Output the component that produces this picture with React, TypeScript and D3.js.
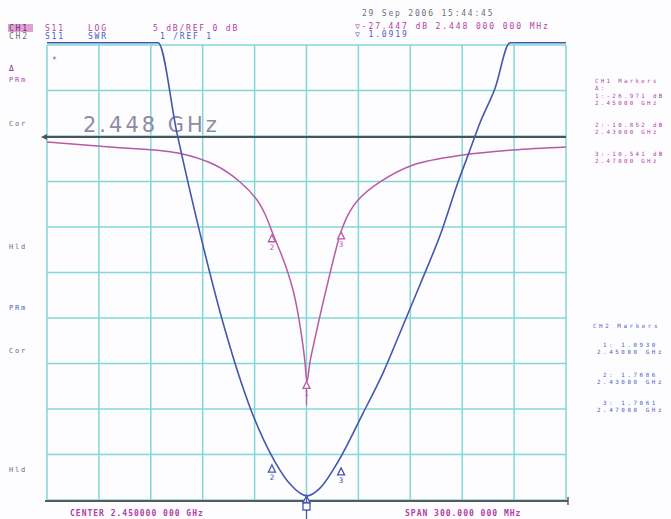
import React from "react";
import * as d3 from "d3";

// ---- data ----
const swrFreq = [2.300, 2.3642, 2.3751, 2.3884, 2.4029, 2.4173, 2.4318, 2.4405, 2.4503, 2.4578, 2.4682, 2.4827, 2.4942, 2.5040, 2.5156, 2.5283, 2.5376, 2.5434, 2.5503, 2.5590, 2.5676, 2.600];
const swrVals = [11.05, 11.05, 9.07, 6.87, 4.74, 3.04, 1.84, 1.35, 1.09, 1.26, 1.84, 2.91, 3.79, 4.67, 5.73, 6.93, 7.99, 8.58, 9.29, 10.05, 11.05, 11.05];

const dbFreq = [2.300, 2.3364, 2.3757, 2.3971, 2.4116, 2.4214, 2.4260, 2.4306, 2.4358, 2.4393, 2.4422, 2.4445, 2.4462, 2.4480, 2.4491, 2.4503, 2.4520, 2.4543, 2.4566, 2.4595, 2.4624, 2.4659, 2.4699, 2.4746, 2.4798, 2.4925, 2.5116, 2.5405, 2.5694, 2.600];
const dbVals = [-0.66, -1.21, -1.87, -3.19, -5.05, -7.03, -8.57, -10.77, -13.19, -15.05, -16.92, -18.90, -20.77, -23.08, -24.84, -26.97, -24.84, -22.75, -20.77, -18.35, -16.04, -13.30, -10.55, -8.46, -7.03, -5.05, -3.19, -2.09, -1.54, -1.21];

const markerFreq = [2.45, 2.43, 2.47];
const markerDb = [-26.971, -10.852, -10.541];
const markerSwr = [1.093, 1.7686, 1.7061];
const markerIds = ["1", "2", "3"];

const refFreq = 2.448;
const startFreq = 2.30;
const stopFreq = 2.60;
const divisions = d3.range(0, 11);

const ch1MarkerLines = ["CH1 Markers", "Δ:", "1:-26.971 dB", " 2.45000 GHz", "2:-10.852 dB", " 2.43000 GHz", "3:-10.541 dB", " 2.47000 GHz"];
const ch2MarkerLines = ["CH2 Markers", "1: 1.0930", "2.45000 GHz", "2: 1.7686", "2.43000 GHz", "3: 1.7061", "2.47000 GHz"];

const PINK = "#b85aa4";
const PINK_TXT = "#b23ea6";
const BLUE = "#4457ad";
const BLUE_TXT = "#4a5cc4";
const GRID = "#84d6d6";
const GRAY_TXT = "#6d6d78";
const MONO = "'DejaVu Sans Mono', monospace";

export default function App() {
  const X0 = 47, X1 = 566, Y0 = 45, Y1 = 500;
  const x = d3.scaleLinear().domain([startFreq, stopFreq]).range([X0, X1]);
  const yDb = d3.scaleLinear().domain([-40, 10]).range([Y1, Y0]);
  const ySwr = d3.scaleLinear().domain([1, 11]).range([Y1, Y0]);
  const gx = d3.scaleLinear().domain([0, 10]).range([X0, X1]);
  const gy = d3.scaleLinear().domain([0, 10]).range([Y0, Y1]);

  const swrLine = d3.line<number>().x((_, i) => x(swrFreq[i])).y((d) => ySwr(d)).curve(d3.curveMonotoneX);
  const dbLine = d3.line<number>().x((_, i) => x(dbFreq[i])).y((d) => yDb(d)).curve(d3.curveCatmullRom.alpha(0.5));

  const txt = (s: string, px: number, py: number, fill: string, key: string, extra: any = {}) => (
    <text key={key} x={px} y={py} fill={fill} fontFamily={MONO} fontSize={8} letterSpacing={1.8} {...extra}>{s}</text>
  );

  const marker = (mx: number, my: number, id: string, color: string, key: string, stem = 0) => (
    <g key={key}>
      {stem > 0 && <line x1={mx} x2={mx} y1={my} y2={my + stem} stroke={color} strokeWidth={1.2} />}
      <path d={`M${mx},${my} L${mx - 3.5},${my + 7} L${mx + 3.5},${my + 7} Z`} fill="white" stroke={color} strokeWidth={1.3} />
      <text x={mx} y={my + 15} fill={color} fontFamily={MONO} fontSize={7.5} textAnchor="middle">{id}</text>
    </g>
  );

  const ch1Y = [83, 90, 98, 105, 127, 134, 156, 163];
  const ch2Y = [328, 347, 354, 377, 384, 405, 412];
  const ch2X = [593, 603, 597, 603, 597, 603, 597];

  return (
    <svg width={671} height={519} style={{ position: "absolute", left: 0, top: 0, background: "#fff" }}>
      <rect width={671} height={519} fill="#fdfdff" />
      {/* grid */}
      {divisions.map((d) => (
        <line key={"v" + d} x1={gx(d)} x2={gx(d)} y1={Y0} y2={Y1} stroke={GRID} strokeWidth={1.5} />
      ))}
      {divisions.map((d) => (
        <line key={"h" + d} x1={X0} x2={X1} y1={gy(d)} y2={gy(d)} stroke={GRID} strokeWidth={1.5} />
      ))}
      {/* bottom axis */}
      <line x1={45} x2={568} y1={Y1 + 1} y2={Y1 + 1} stroke="#5a5a62" strokeWidth={1.8} />
      <path d={`M568,${Y1 - 3} L568,${Y1 + 5}`} stroke="#5a5a62" strokeWidth={1.5} />
      {/* reference line */}
      <line x1={44} x2={X1} y1={yDb(0) + 1} y2={yDb(0) + 1} stroke="#505058" strokeWidth={2} />
      <path d={`M41,${yDb(0) + 1} L47,${yDb(0) - 2} L47,${yDb(0) + 4} Z`} fill="#505058" />
      <text x={83} y={132} fill="#8d8da2" fontFamily="'DejaVu Sans', sans-serif" fontSize={21} letterSpacing={3}>
        {refFreq.toFixed(3)} GHz
      </text>
      <text x={52} y={63} fill={GRAY_TXT} fontFamily={MONO} fontSize={8}>*</text>

      {/* traces */}
      <path d={dbLine(dbVals) || ""} fill="none" stroke={PINK} strokeWidth={1.5} />
      <path d={swrLine(swrVals) || ""} fill="none" stroke={BLUE} strokeWidth={1.6} />

      {/* markers */}
      {markerFreq.map((f, i) =>
        marker(x(f), yDb(markerDb[i]), markerIds[i], PINK, "mp" + i, i === 0 ? 24 : 0)
      )}
      {markerFreq.map((f, i) =>
        marker(x(f), ySwr(markerSwr[i]), markerIds[i], BLUE, "mb" + i, 0)
      )}
      <line x1={x(2.45)} x2={x(2.45)} y1={ySwr(1.093)} y2={519} stroke={BLUE} strokeWidth={1.3} />
      <rect x={x(2.45) - 3.5} y={503} width={7} height={7} fill="white" stroke={BLUE} strokeWidth={1.3} />

      {/* header */}
      <rect x={8} y={24} width={25} height={8} fill="#c05aa8" opacity={0.55} />
      {txt("CH1", 9, 31, "#7a2a78", "h1")}
      {txt("S11", 45, 31, PINK_TXT, "h2")}
      {txt("LOG", 88, 31, PINK_TXT, "h3")}
      {txt("5 dB/REF 0 dB", 153, 31, PINK_TXT, "h4")}
      {txt("CH2", 9, 39, GRAY_TXT, "h5")}
      {txt("S11", 45, 39, BLUE_TXT, "h6")}
      {txt("SWR", 88, 39, BLUE_TXT, "h7")}
      {txt("1 /REF 1", 160, 39, BLUE_TXT, "h8")}
      {txt("29 Sep 2006  15:44:45", 362, 16, GRAY_TXT, "d1")}
      {txt("▽-27.447 dB  2.448 000 000 MHz", 355, 29, PINK_TXT, "d2", { letterSpacing: 1.9 })}
      {txt("▽ 1.0919", 355, 37, BLUE_TXT, "d3", { letterSpacing: 1.9 })}

      {/* left annotations */}
      {txt("Δ", 9, 71, "#7a2a78", "l1")}
      {txt("PRm", 9, 82, PINK_TXT, "l2", { fontSize: 7 })}
      {txt("Cor", 9, 126, GRAY_TXT, "l3", { fontSize: 7 })}
      {txt("Hld", 9, 249, GRAY_TXT, "l4", { fontSize: 7 })}
      {txt("PRm", 9, 310, BLUE_TXT, "l5", { fontSize: 7 })}
      {txt("Cor", 9, 353, GRAY_TXT, "l6", { fontSize: 7 })}
      {txt("Hld", 9, 472, GRAY_TXT, "l7", { fontSize: 7 })}

      {/* right marker tables */}
      {ch1MarkerLines.map((s, i) => txt(s, 595, ch1Y[i], PINK_TXT, "r1" + i, { fontSize: 5.8, letterSpacing: 2.3 }))}
      {ch2MarkerLines.map((s, i) => txt(s, ch2X[i], ch2Y[i], BLUE_TXT, "r2" + i, { fontSize: 5.8, letterSpacing: 2.6 }))}

      {/* footer */}
      {txt("CENTER 2.450000 000 GHz", 70, 516, PINK_TXT, "f1", { fontWeight: "bold", letterSpacing: 1 })}
      {txt("SPAN 300.000 000 MHz", 405, 516, PINK_TXT, "f2", { fontWeight: "bold", letterSpacing: 1 })}
    </svg>
  );
}
